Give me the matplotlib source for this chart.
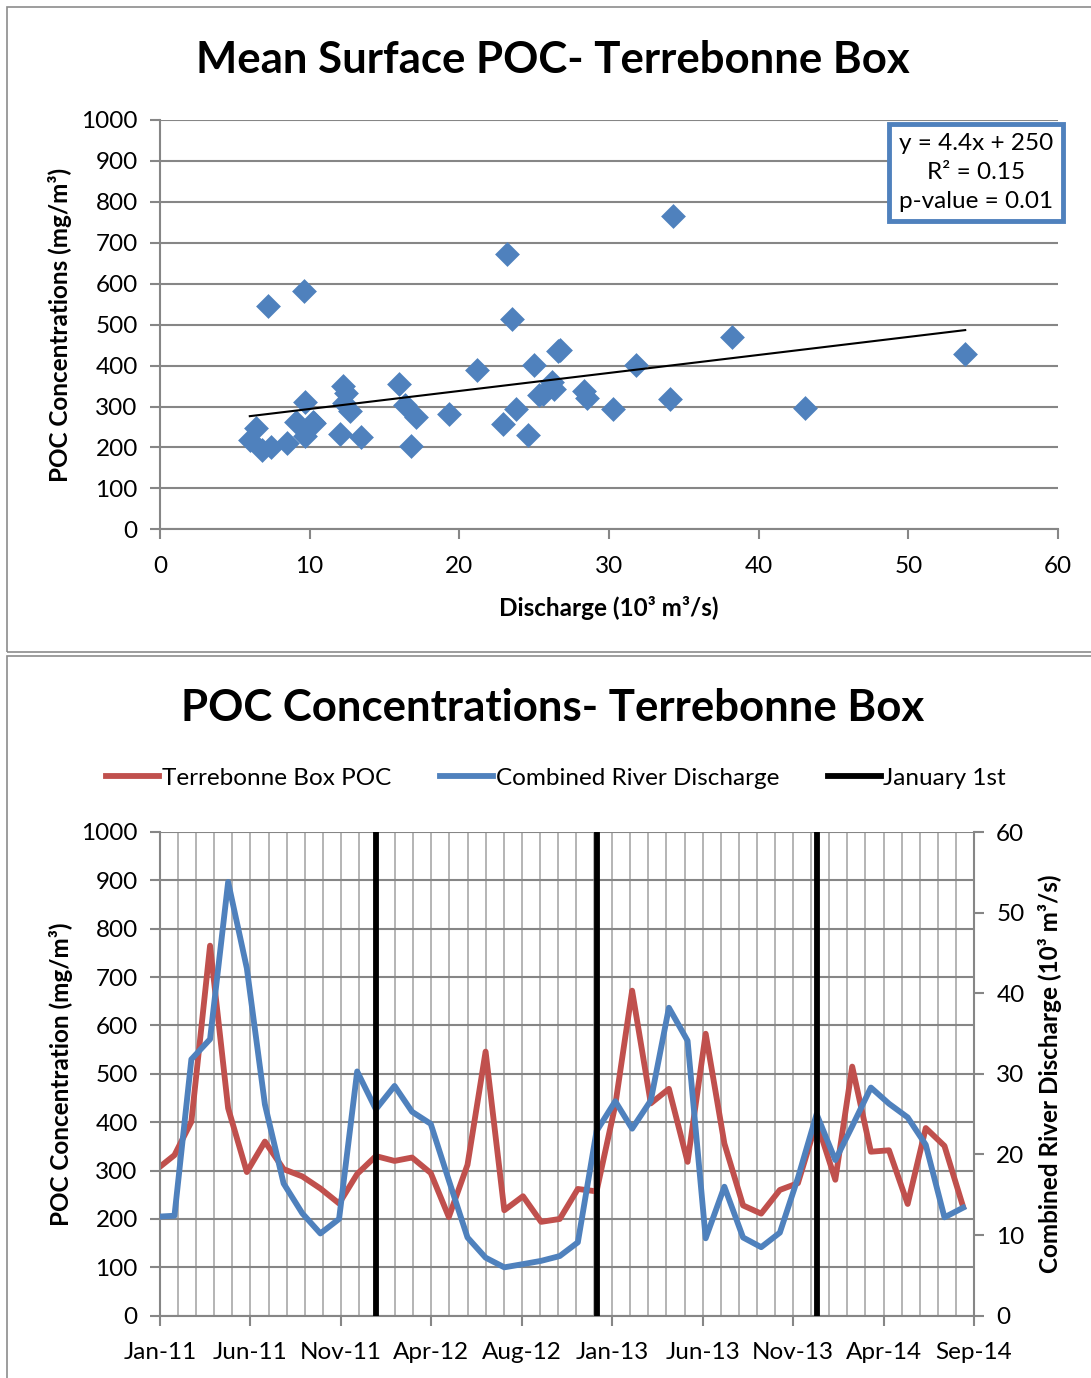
import numpy as np
import pandas as pd
import matplotlib
matplotlib.use('Agg')
import matplotlib.pyplot as plt
import matplotlib.dates as mdates
from matplotlib.patches import Rectangle

plt.rcParams['font.family'] = ['Lato', 'DejaVu Sans']

# monthly samples, first one taken on Jan 8 2011
sample_dates = pd.to_datetime(['2011-01-08']).append(
    pd.date_range('2011-02-01', '2014-09-01', freq='MS'))

# mean surface POC (mg/m3), one value per sample
poc = [308, 332, 401, 765, 429, 297, 360, 303, 288, 263, 232, 293,
       330, 320, 327, 295, 204, 312, 546, 218, 247, 194, 200, 262,
       257, 435, 672, 439, 469, 318, 583, 356, 228, 211, 260, 274,
       401, 281, 515, 339, 342, 231, 388, 351, 225]

# combined river discharge (10^3 m3/s)
discharge = [12.3, 12.4, 31.8, 34.3, 53.8, 43.1, 26.2, 16.4, 12.7, 10.2, 12.0, 30.3,
             25.6, 28.5, 25.3, 23.8, 16.8, 9.7, 7.2, 6.0, 6.4, 6.8, 7.4, 9.1,
             22.9, 26.6, 23.2, 26.7, 38.2, 34.1, 9.6, 16.0, 9.7, 8.5, 10.3, 17.1,
             25.0, 19.3, 23.5, 28.3, 26.3, 24.6, 21.2, 12.2, 13.4]

jan_first = pd.to_datetime(['2012-01-01', '2013-01-01', '2014-01-01'])

# linear fit reported on the scatter
slope, intercept = 4.4, 250
r_squared, p_value = 0.15, 0.01

red = '#C0504D'
blue = '#4F81BD'
grid_gray = '#868686'
fine_gray = '#B4B4B4'
fs = 17.5

W, H = 1091, 1378
fig = plt.figure(figsize=(W / 100., H / 100.), dpi=100)

# chart area borders
for top, bottom in [(7, 652), (656, 1390)]:
    fig.patches.append(Rectangle((7. / W, 1 - bottom / float(H)), 1.2, (bottom - top) / float(H),
                                 transform=fig.transFigure, fill=False,
                                 ec='#8C8C8C', lw=1.2))

def px(x0, y0, x1, y1):
    return [x0 / float(W), 1 - y1 / float(H), (x1 - x0) / float(W), (y1 - y0) / float(H)]

# ---- scatter: POC vs discharge ----
ax1 = fig.add_axes(px(160, 120, 1058, 529.3))
ax1.scatter(discharge, poc, marker='D', s=160, color=blue, zorder=3, linewidths=0)
xfit = np.array([min(discharge), max(discharge)])
ax1.plot(xfit, slope * xfit + intercept, color='black', lw=1.5, zorder=4)
ax1.set_xlim(0, 60)
ax1.set_ylim(0, 1000)
ax1.set_xticks(range(0, 61, 10))
ax1.set_yticks(range(0, 1001, 100))
ax1.grid(axis='y', color=grid_gray, lw=1.5)
ax1.set_axisbelow(True)
for s in ['top', 'right']:
    ax1.spines[s].set_visible(False)
for s in ['left', 'bottom']:
    ax1.spines[s].set_color(grid_gray)
    ax1.spines[s].set_linewidth(1.5)
ax1.tick_params(direction='out', length=7, width=1.5, color=grid_gray, labelsize=fs, pad=9)
ax1.tick_params(axis='x', pad=12)
ax1.set_xlabel('Discharge (10³ m³/s)', fontsize=fs, fontweight='bold', labelpad=14)
ax1.set_ylabel('POC Concentrations (mg/m³)', fontsize=fs, fontweight='bold', labelpad=7)
ax1.text(0.909, 0.872, 'y = 4.4x + 250\nR² = %.2f\np-value = %.2f' % (r_squared, p_value),
         transform=ax1.transAxes, ha='center', va='center', fontsize=fs, linespacing=1.45,
         bbox=dict(boxstyle='square,pad=0.4', fc='white', ec=blue, lw=3.5), zorder=5)
fig.text(553 / float(W), 1 - 60 / float(H), 'Mean Surface POC- Terrebonne Box',
         ha='center', va='center', fontsize=31.5, fontweight='bold')

# ---- time series ----
start = mdates.date2num(sample_dates[0])
ax2 = fig.add_axes(px(160, 832, 974, 1315.7))
l1, = ax2.plot(sample_dates, poc, color=red, lw=4.2, label='Terrebonne Box POC')
ax2.set_ylim(0, 1000)
ax2.set_yticks(range(0, 1001, 100))
ax2.set_xlim(start, start + 1350)
ax2.set_xticks(start + np.arange(10) * 150)
ax2.set_xticks(start + np.arange(46) * 30, minor=True)
ax2.xaxis.set_major_formatter(mdates.DateFormatter('%b-%y'))
ax2.grid(axis='y', color=grid_gray, lw=1.5)
ax2.grid(axis='x', which='both', color=fine_gray, lw=1.4)
ax2.set_axisbelow(True)
for s in ['top', 'right']:
    ax2.spines[s].set_visible(False)
for s in ['left', 'bottom']:
    ax2.spines[s].set_color(grid_gray)
    ax2.spines[s].set_linewidth(1.5)
ax2.tick_params(direction='out', length=7, width=1.5, color=grid_gray, labelsize=fs, pad=9)
ax2.tick_params(axis='x', pad=12)
ax2.tick_params(axis='x', which='minor', length=0)
ax2.set_ylabel('POC Concentration (mg/m³)', fontsize=fs, fontweight='bold', labelpad=6)

ax3 = ax2.twinx()
l2, = ax3.plot(sample_dates, discharge, color=blue, lw=4.2, label='Combined River Discharge')
for i, d in enumerate(jan_first):
    l3, = ax3.plot([d, d], [0, 60], color='black', lw=4.2, label='January 1st')
ax3.set_ylim(0, 60)
ax3.set_yticks(range(0, 61, 10))
for s in ['top', 'left', 'bottom']:
    ax3.spines[s].set_visible(False)
ax3.spines['right'].set_color(grid_gray)
ax3.spines['right'].set_linewidth(1.5)
ax3.tick_params(direction='out', length=7, width=1.5, color=grid_gray, labelsize=fs, pad=9)
ax3.set_ylabel('Combined River Discharge (10³ m³/s)', fontsize=fs, fontweight='bold', labelpad=10)

fig.text(553 / float(W), 1 - 708 / float(H), 'POC Concentrations- Terrebonne Box',
         ha='center', va='center', fontsize=31.5, fontweight='bold')
fig.legend([l1, l2, l3], ['Terrebonne Box POC', 'Combined River Discharge', 'January 1st'],
           loc='center', bbox_to_anchor=(556 / float(W), 1 - 778 / float(H)), ncol=3,
           frameon=False, fontsize=fs, handlelength=2.2, handletextpad=0.1, columnspacing=2.0)

plt.savefig('out.png', dpi=100)
